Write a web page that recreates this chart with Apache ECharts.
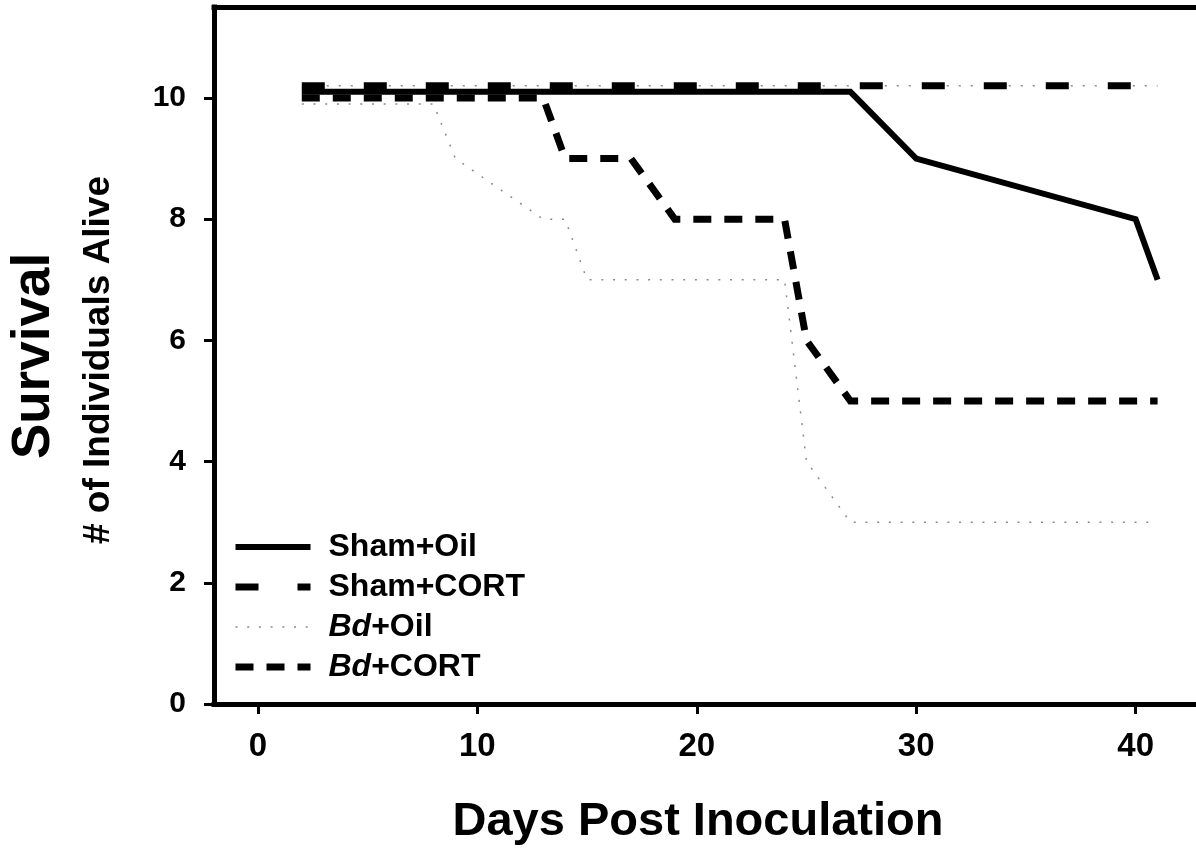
<!DOCTYPE html>
<html>
<head>
<meta charset="utf-8">
<script src="https://cdn.jsdelivr.net/npm/echarts@6/dist/echarts.min.js"></script>
<style>
html, body { margin: 0; padding: 0; background: #fff; }
#chart { width: 1196px; height: 851px; }
</style>
</head>
<body>
<div id="chart"></div>
<script>
// ---- data ----
const shamOilDays   = [2, 27, 30, 40, 41];
const shamOilAlive  = [10.1, 10.1, 9, 8, 7];
const shamCortDays  = [2, 41];
const shamCortAlive = [10.2, 10.2];
const bdOilDays     = [2, 8, 9, 13, 14, 15, 24, 25, 27, 41];
const bdOilAlive    = [9.9, 9.9, 9, 8, 8, 7, 7, 4, 3, 3];
const bdCortDays    = [2, 13, 14, 17, 19, 24, 25, 27, 41];
const bdCortAlive   = [10, 10, 9, 9, 8, 8, 6, 5, 5];
const xTicks = [0, 10, 20, 30, 40];
const yTicks = [0, 2, 4, 6, 8, 10];
const seriesNames = ['Sham+Oil', 'Sham+CORT', 'Bd+Oil', 'Bd+CORT'];
const xTitle = 'Days Post Inoculation';
const yTitle = 'Survival';
const ySubtitle = '# of Individuals Alive';

const FONT = '"Liberation Sans", Arial, Helvetica, sans-serif';
const zip = (xs, ys) => xs.map((x, i) => [x, ys[i]]);

const chart = echarts.init(document.getElementById('chart'), null, { renderer: 'canvas' });

const baseLine = { type: 'line', symbol: 'none', animation: false, silent: true };

const option = {
  animation: false,
  backgroundColor: '#fff',
  grid: { left: 214, right: 0, top: 7, bottom: 147, outerBoundsMode: 'none', containLabel: false },
  xAxis: [
    {
      type: 'value', position: 'bottom', min: -2, max: 42.75,
      axisLine: { onZero: false, lineStyle: { color: '#000', width: 5, cap: 'square' } },
      axisTick: { customValues: xTicks, length: 10, lineStyle: { color: '#000', width: 3 } },
      axisLabel: { customValues: xTicks, margin: 26, color: '#000', fontSize: 33, fontWeight: 'bold', fontFamily: FONT },
      splitLine: { show: false }
    },
    {
      type: 'value', position: 'top', min: -2, max: 42.75,
      axisLine: { onZero: false, lineStyle: { color: '#000', width: 5, cap: 'square' } },
      axisTick: { show: false }, axisLabel: { show: false }, splitLine: { show: false }
    }
  ],
  yAxis: {
    type: 'value', min: 0, max: 11.5,
    axisLine: { show: true, onZero: false, lineStyle: { color: '#000', width: 5, cap: 'square' } },
    axisTick: { show: true, customValues: yTicks, length: 10, lineStyle: { color: '#000', width: 3 } },
    axisLabel: { customValues: yTicks, margin: 28, color: '#000', fontSize: 30, fontWeight: 'bold', fontFamily: FONT },
    splitLine: { show: false }
  },
  legend: {
    orient: 'vertical', left: 227, top: 526,
    itemWidth: 75, itemHeight: 30, itemGap: 8,
    selectedMode: false,
    data: [
      { name: seriesNames[0], itemStyle: { opacity: 0 }, lineStyle: { width: 6 } },
      { name: seriesNames[1], itemStyle: { opacity: 0 }, lineStyle: { width: 7 } },
      { name: seriesNames[2], itemStyle: { opacity: 0 }, lineStyle: { width: 1.5 } },
      { name: seriesNames[3], itemStyle: { opacity: 0 }, lineStyle: { width: 7 } }
    ],
    formatter: function (name) {
      if (name.indexOf('Bd') === 0) return '{i|Bd}{n|' + name.slice(2) + '}';
      return '{n|' + name + '}';
    },
    textStyle: {
      color: '#000', fontSize: 32, fontWeight: 'bold', fontFamily: FONT, padding: [0, 0, 0, 13],
      rich: {
        i: { fontStyle: 'italic', fontWeight: 'bold', fontSize: 32, fontFamily: FONT, color: '#000' },
        n: { fontWeight: 'bold', fontSize: 32, fontFamily: FONT, color: '#000' }
      }
    }
  },
  series: [
    Object.assign({}, baseLine, {
      name: seriesNames[2], data: zip(bdOilDays, bdOilAlive),
      lineStyle: { color: '#8a8a8a', width: 1.5, type: [2, 9.7], cap: 'butt' }, z: 2
    }),
    Object.assign({}, baseLine, {
      name: seriesNames[3], data: zip(bdCortDays, bdCortAlive),
      lineStyle: { color: '#000', width: 7, type: [18, 13], cap: 'butt', join: 'miter' }, z: 3
    }),
    Object.assign({}, baseLine, {
      name: seriesNames[0], data: zip(shamOilDays, shamOilAlive),
      lineStyle: { color: '#000', width: 6, type: 'solid', cap: 'butt', join: 'miter' }, z: 4
    }),
    Object.assign({}, baseLine, {
      name: seriesNames[1], data: zip(shamCortDays, shamCortAlive),
      lineStyle: { color: '#000', width: 7, type: [23, 39], cap: 'butt' }, z: 5
    }),
    Object.assign({}, baseLine, {
      name: seriesNames[1] + ' ', data: zip(shamCortDays, shamCortAlive),
      lineStyle: { color: '#8a8a8a', width: 1.5, type: [2, 10, 2, 10, 2, 36], dashOffset: 37, cap: 'butt' }, z: 5
    })
  ],
  graphic: [
    {
      type: 'text', x: 698, y: 822, silent: true,
      style: { text: xTitle, fill: '#000', font: 'bold 47px ' + FONT, textAlign: 'center', textVerticalAlign: 'middle', align: 'center', verticalAlign: 'middle' }
    },
    {
      type: 'text', x: 34, y: 356, rotation: Math.PI / 2, silent: true,
      style: { text: yTitle, fill: '#000', font: 'bold 53px ' + FONT, textAlign: 'center', textVerticalAlign: 'middle', align: 'center', verticalAlign: 'middle' }
    },
    {
      type: 'text', x: 99, y: 360, rotation: Math.PI / 2, silent: true,
      style: { text: ySubtitle, fill: '#000', font: 'bold 37px ' + FONT, textAlign: 'center', textVerticalAlign: 'middle', align: 'center', verticalAlign: 'middle' }
    }
  ]
};

chart.setOption(option);
</script>
</body>
</html>
